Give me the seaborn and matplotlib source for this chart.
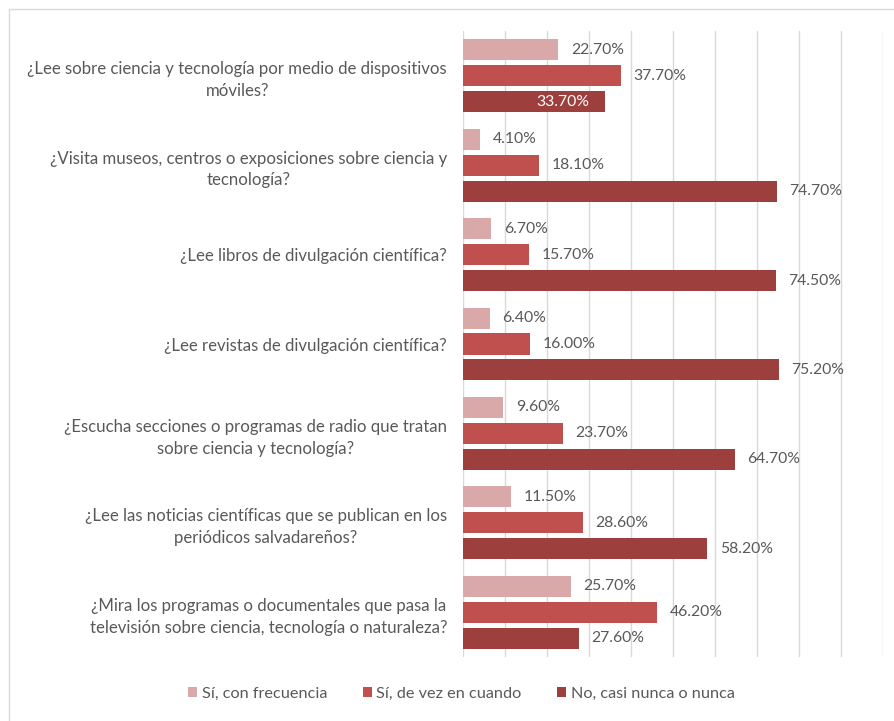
import matplotlib
matplotlib.use("Agg")
import matplotlib.pyplot as plt
from matplotlib.patches import Rectangle
import seaborn as sns
import pandas as pd

questions = [
    "¿Lee sobre ciencia y tecnología por medio de dispositivos\nmóviles?",
    "¿Visita museos, centros o exposiciones sobre ciencia y\ntecnología?",
    "¿Lee libros de divulgación científica?",
    "¿Lee revistas de divulgación científica?",
    "¿Escucha secciones o programas de radio que tratan\nsobre ciencia y tecnología?",
    "¿Lee las noticias científicas que se publican en los\nperiódicos salvadareños?",
    "¿Mira los programas o documentales que pasa la\ntelevisión sobre ciencia, tecnología o naturaleza?",
]
series = ["Sí, con frecuencia", "Sí, de vez en cuando", "No, casi nunca o nunca"]
frecuente = [22.7, 4.1, 6.7, 6.4, 9.6, 11.5, 25.7]
a_veces = [37.7, 18.1, 15.7, 16.0, 23.7, 28.6, 46.2]
nunca = [33.7, 74.7, 74.5, 75.2, 64.7, 58.2, 27.6]
colors = ["#D9A8A8", "#C0504D", "#9C3F3D"]

rows = []
for s, vals in zip(series, [frecuente, a_veces, nunca]):
    for q, v in zip(questions, vals):
        rows.append({"pregunta": q, "respuesta": s, "porcentaje": v})
df = pd.DataFrame(rows)

sns.set_theme(style="white")
plt.rcParams["font.family"] = ["Lato", "DejaVu Sans"]
text_color = "#595959"

fig = plt.figure(figsize=(8.95, 7.21), dpi=100)
ax = fig.add_axes([463 / 895, 1 - 657 / 721, 420 / 895, 626 / 721])

sns.barplot(
    data=df, x="porcentaje", y="pregunta", hue="respuesta",
    hue_order=series, order=questions, palette=colors,
    orient="h", width=0.87, gap=0.19, saturation=1, ax=ax,
    edgecolor="none", legend=True,
)

ax.set_xlim(0, 100)
ax.set_xticks(range(0, 101, 10))
ax.set_xticklabels([])
ax.tick_params(axis="x", length=0)
ax.grid(axis="x", color="#D9D9D9", linewidth=1)
ax.set_axisbelow(True)
for sp in ax.spines.values():
    sp.set_visible(False)
ax.set_xlabel("")
ax.set_ylabel("")
ax.tick_params(axis="y", length=0, pad=11.5, labelsize=12.1, labelcolor=text_color)
for lbl in ax.get_yticklabels():
    lbl.set_multialignment("center")
    lbl.set_linespacing(1.45)

# value labels; the first dark bar carries its label inside the bar
for si, cont in enumerate(ax.containers):
    vals = [frecuente, a_veces, nunca][si]
    for qi, (bar, v) in enumerate(zip(cont, vals)):
        y = bar.get_y() + bar.get_height() / 2
        inside = si == 2 and qi == 0
        if inside:
            ax.annotate(f"{v:.2f}%", (v, y), xytext=(-11, 0), textcoords="offset points",
                        ha="right", va="center", color="white", fontsize=11.3)
        else:
            ax.annotate(f"{v:.2f}%", (v, y), xytext=(9, 0), textcoords="offset points",
                        ha="left", va="center", color=text_color, fontsize=11.3)

handles, labels = ax.get_legend_handles_labels()
ax.get_legend().remove()
fig.legend(handles, labels, loc="center", bbox_to_anchor=(0.5156, 0.038), ncol=3,
           frameon=False, fontsize=11.7, labelcolor=text_color,
           handlelength=0.55, handleheight=0.55, handletextpad=0.3, columnspacing=2.2)

# chart frame
fig.patches.append(Rectangle((9 / 895, -0.1), 1.2, 1 - 9 / 721 + 0.1,
                             transform=fig.transFigure, fill=False,
                             edgecolor="#D9D9D9", linewidth=1))

fig.savefig("out.png", dpi=100)
